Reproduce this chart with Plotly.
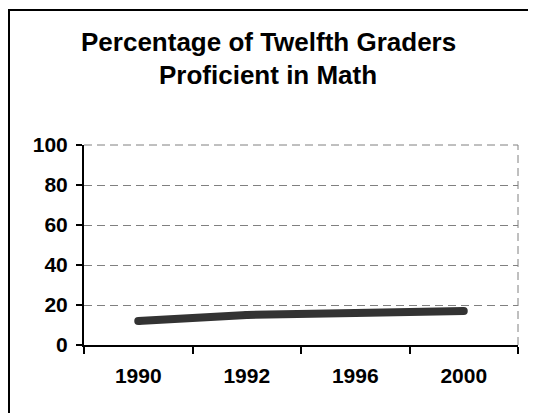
import plotly.graph_objects as go

years = ["1990", "1992", "1996", "2000"]
percent_proficient = [12, 15, 16, 17]
y_ticks = [0, 20, 40, 60, 80, 100]
title_lines = ["Percentage of Twelfth Graders", "Proficient in Math"]

FONT = "Liberation Sans, Arial, sans-serif"

# page body has an 8px margin, so the figure is drawn at (8, 8)
OFF = 8
W, H = 536 - OFF, 413 - OFF
L, R, T, B = 84 - OFF, 18, 145 - OFF, 68
pw, ph = W - L - R, H - T - B

def px_x(px):
    return (px - OFF - L) / pw

def px_y(py):
    return (H - B - (py - OFF)) / ph

fig = go.Figure()
fig.add_trace(go.Scatter(
    x=years, y=percent_proficient, mode="lines+markers",
    line=dict(color="#333333", width=8),
    marker=dict(color="#333333", size=8),
    showlegend=False, hoverinfo="skip",
))

GRID_DASH = "8px,5px"

fig.update_layout(
    width=W, height=H,
    margin=dict(l=L, r=R, t=T, b=B),
    paper_bgcolor="white", plot_bgcolor="white",
    font=dict(family=FONT, color="black"),
    xaxis=dict(
        type="category", range=[-0.5, len(years) - 0.5],
        tickson="boundaries", ticks="outside", ticklen=7,
        tickwidth=2, tickcolor="black",
        showline=True, linecolor="black", linewidth=2,
        showgrid=False, zeroline=False,
        tickfont=dict(family=FONT, size=21, color="black", weight="bold"),
        ticklabelstandoff=11,
    ),
    yaxis=dict(
        range=[0, 100], tickvals=y_ticks, ticktext=[str(v) for v in y_ticks],
        ticks="outside", ticklen=6, tickwidth=2, tickcolor="black",
        showline=True, linecolor="black", linewidth=2,
        showgrid=True, gridcolor="#808080", gridwidth=1, griddash=GRID_DASH,
        zeroline=False,
        tickfont=dict(family=FONT, size=21, color="black", weight="bold"),
        ticklabelstandoff=4,
    ),
)

# top gridline at 100 and right dashed edge of the plot area
fig.add_shape(type="line", xref="paper", yref="paper", x0=0, x1=1, y0=1, y1=1,
              line=dict(color="#808080", width=1, dash=GRID_DASH), layer="below")
fig.add_shape(type="line", xref="paper", yref="paper", x0=1, x1=1, y0=0, y1=1,
              line=dict(color="#808080", width=1, dash=GRID_DASH), layer="below")

# outer chart border (extends beyond the right and bottom edges)
fig.add_shape(type="rect", xref="paper", yref="paper",
              x0=px_x(OFF + 1), x1=px_x(545), y0=px_y(425), y1=px_y(10),
              line=dict(color="black", width=2), fillcolor="rgba(0,0,0,0)")

for line_text, cy in zip(title_lines, [42, 75]):
    fig.add_annotation(
        text=line_text, xref="paper", yref="paper",
        x=px_x(268), y=px_y(cy), xanchor="center", yanchor="middle",
        showarrow=False,
        font=dict(family=FONT, size=26, color="black", weight="bold"),
    )

fig.write_html("out.html")
